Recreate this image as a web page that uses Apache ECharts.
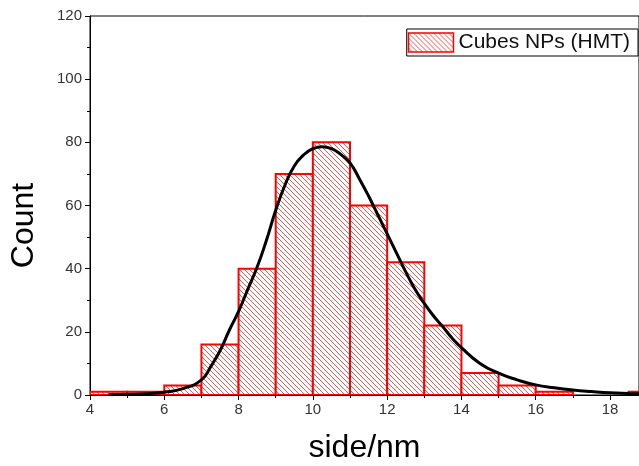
<!DOCTYPE html>
<html>
<head>
<meta charset="utf-8">
<script src="https://cdn.jsdelivr.net/npm/echarts@6/dist/echarts.min.js"></script>
<style>html,body{margin:0;padding:0;background:#fff;}#c{width:639px;height:466px;}</style>
</head>
<body>
<div id="c"></div>
<script>
// Histogram bins (left edge, right edge) and counts
var binLeft  = [4, 5, 6, 7, 8, 9, 10, 11, 12, 13, 14, 15, 16, 18.5];
var binRight = [5, 6, 7, 8, 9, 10, 11, 12, 13, 14, 15, 16, 17, 19.5];
var counts   = [1, 1, 3, 16, 40, 70, 80, 60, 42, 22, 7, 3, 1, 1];
// Fitted curve
var fitX = [4.5, 5, 5.5, 6, 6.5, 7, 7.25, 7.5, 7.75, 8, 8.25, 8.5, 8.75, 9, 9.25, 9.5, 9.75, 10, 10.25, 10.5, 10.75, 11, 11.25, 11.5, 11.75, 12, 12.25, 12.5, 12.75, 13, 13.25, 13.5, 13.75, 14, 14.5, 15, 15.5, 16, 16.5, 17, 17.5, 18, 18.5, 19];
var fitY = [0.1, 0.2, 0.4, 0.9, 2.0, 4.8, 9, 14, 20.5, 26.5, 33.5, 40.5, 49, 58.5, 66.5, 72.5, 76, 78, 78.6, 78, 76.2, 73.5, 68.5, 63, 57, 51, 45, 39, 33.5, 29, 25, 21.6, 18, 15, 10, 6.9, 4.8, 3.2, 2.3, 1.6, 1.1, 0.7, 0.5, 0.35];
var yTicks = [0, 20, 40, 60, 80, 100, 120];
var xMajor = [4, 6, 8, 10, 12, 14, 16, 18];
var xMinor = [5, 7, 9, 11, 13, 15, 17];
var seriesName = 'Cubes NPs (HMT)';

function makeHatch() {
  var s = 5;
  var cv = document.createElement('canvas');
  cv.width = s; cv.height = s;
  var ctx = cv.getContext('2d');
  ctx.fillStyle = '#ffffff';
  ctx.fillRect(0, 0, s, s);
  ctx.strokeStyle = '#ff5050';
  ctx.lineWidth = 1;
  ctx.beginPath();
  ctx.moveTo(-1, -1); ctx.lineTo(s + 1, s + 1);
  ctx.moveTo(-1 - s, -1); ctx.lineTo(1, s + 1);
  ctx.moveTo(s - 1, -1); ctx.lineTo(2 * s + 1, s + 1);
  ctx.stroke();
  return { image: cv, repeat: 'repeat' };
}
var hatch = makeHatch();

var histData = binLeft.map(function (l, i) { return [l, binRight[i], counts[i]]; });
var fitData = fitX.map(function (x, i) { return [x, fitY[i]]; });

var chart = echarts.init(document.getElementById('c'), null, { renderer: 'canvas' });
var font = 'Liberation Sans, Arial, sans-serif';
chart.setOption({
  animation: false,
  grid: { left: 90, right: 0, top: 16, bottom: 71, show: true, borderColor: '#000', borderWidth: 1,
          containLabel: false, outerBoundsMode: 'none' },
  legend: {
    right: 1, top: 29,
    data: [{ name: seriesName, icon: 'rect', itemStyle: { color: hatch, borderColor: '#ff0000', borderWidth: 1.5 } }],
    borderColor: '#000', borderWidth: 1, padding: [3, 8, 3, 1],
    itemWidth: 45, itemHeight: 19, itemGap: 5,
    textStyle: { fontFamily: font, fontSize: 21, color: '#111' }
  },
  xAxis: [{
    type: 'value', min: 4, max: 18.78, position: 'bottom',
    name: 'side/nm', nameLocation: 'middle', nameGap: 37,
    nameTextStyle: { fontFamily: font, fontSize: 32, color: '#000' },
    axisLine: { show: true, lineStyle: { color: '#000', width: 1 } },
    axisTick: { show: true, inside: false, length: 5, customValues: xMajor, lineStyle: { color: '#000' } },
    axisLabel: { customValues: xMajor, fontFamily: font, fontSize: 15, color: '#333', margin: 7 },
    splitLine: { show: false }
  }, {
    type: 'value', min: 4, max: 18.78, position: 'bottom',
    axisLine: { show: false },
    axisTick: { show: true, length: 3, customValues: xMinor, lineStyle: { color: '#000' } },
    axisLabel: { show: false },
    splitLine: { show: false }
  }],
  yAxis: {
    type: 'value', min: 0, max: 120, interval: 20,
    name: 'Count', nameLocation: 'middle', nameGap: 50,
    nameTextStyle: { fontFamily: font, fontSize: 32, color: '#000', padding: [0, 40, 0, 0] },
    axisLine: { show: true, lineStyle: { color: '#000', width: 1 } },
    axisTick: { show: true, length: 5, lineStyle: { color: '#000' } },
    minorTick: { show: true, splitNumber: 2, length: 3, lineStyle: { color: '#000' } },
    axisLabel: { fontFamily: font, fontSize: 15, color: '#333', margin: 8 },
    splitLine: { show: false }
  },
  series: [{
    name: seriesName,
    type: 'custom',
    clip: true,
    xAxisIndex: 0,
    encode: { x: [0, 1], y: 2 },
    data: histData,
    itemStyle: { color: hatch, borderColor: '#ff0000' },
    renderItem: function (params, api) {
      var p0 = api.coord([api.value(0), api.value(2)]);
      var p1 = api.coord([api.value(1), 0]);
      return {
        type: 'rect',
        shape: { x: p0[0], y: p0[1], width: p1[0] - p0[0], height: p1[1] - p0[1] },
        style: { fill: hatch, stroke: '#ff0000', lineWidth: 2 }
      };
    },
    z: 2
  }, {
    name: 'fit',
    type: 'line',
    xAxisIndex: 0,
    data: fitData,
    smooth: 0.5,
    showSymbol: false,
    lineStyle: { color: '#000', width: 3 },
    clip: true,
    z: 3
  }]
});
</script>
</body>
</html>
